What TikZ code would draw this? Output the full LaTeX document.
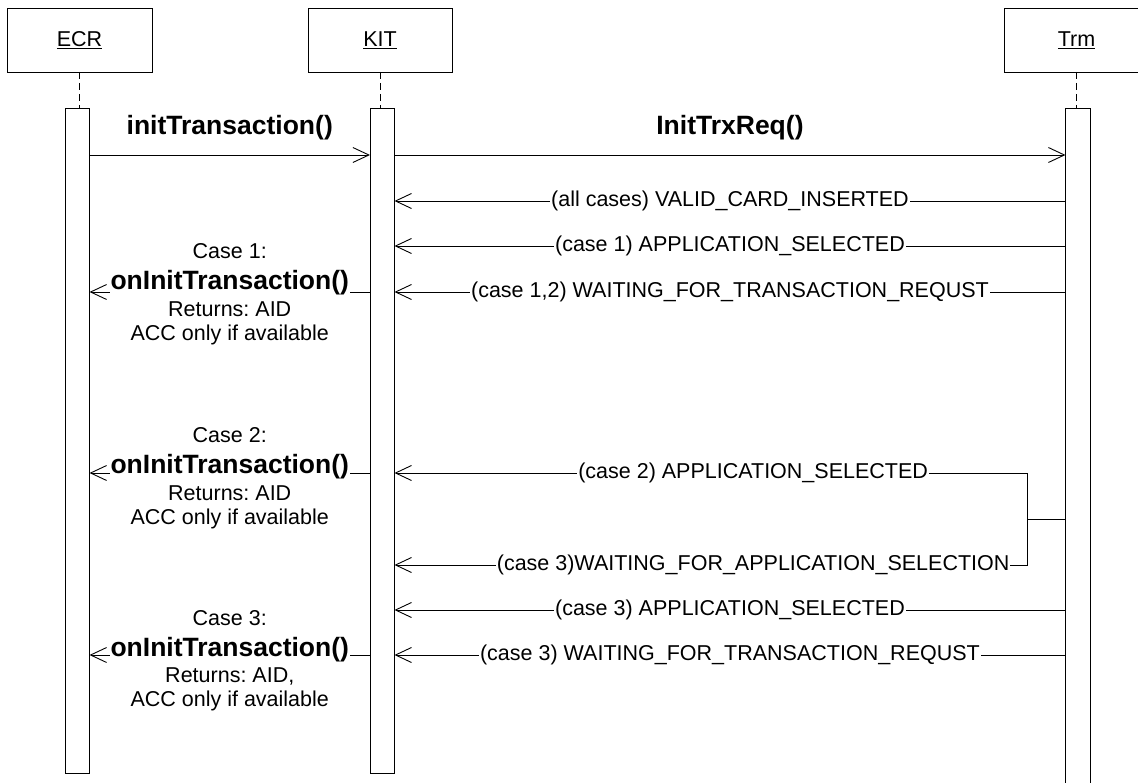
\documentclass[tikz,border=0pt]{standalone}
\usepackage{fontspec}
\setmainfont{Liberation Sans}
\usetikzlibrary{arrows.meta}
\frenchspacing
\newcommand\retbold[1]{{\fontsize{26.5}{30}\selectfont\bfseries #1}}
\newcommand\retfont{\fontsize{21.5}{24}\selectfont\frenchspacing\lineskiplimit=-100pt\relax\lineskip=0pt\relax}
\begin{document}
\begin{tikzpicture}[x=1pt,y=-1pt,
 every node/.style={inner sep=0pt, outer sep=0pt},
 objbox/.style={draw, line width=0.9pt, fill=white, minimum width=145pt, minimum height=64pt, font=\fontsize{21.5}{24}\selectfont},
 actbar/.style={draw, line width=0.9pt, fill=white, minimum width=24.5pt},
 life/.style={line width=0.9pt, dash pattern=on 7pt off 4pt},
 msg/.style={line width=0.9pt, -{Straight Barb[length=16pt,width=15pt]}},
 wire/.style={line width=0.9pt},
 lbl/.style={fill=white, inner xsep=1pt, inner ysep=1pt, font=\fontsize{21.5}{24}\selectfont\frenchspacing},
 hdr/.style={font=\fontsize{26.5}{30}\selectfont\bfseries},
 ret/.style={fill=white, inner sep=1pt, align=center, font=\retfont},
]
\clip (0,0) rectangle (1138,783);
\fill[white] (0,0) rectangle (1138,783);

% objects
\node[objbox] (ecrbox) at (79.5,40) {\underline{ECR}};
\node[objbox, minimum width=144pt] (kitbox) at (380,40) {\underline{KIT}};
\node[objbox] (trmbox) at (1076.5,40) {\underline{Trm}};

% activation bars
\node[actbar, minimum height=665pt] (ecrbar) at (77.3,440.5) {};
\node[actbar, minimum height=665pt] (kitbar) at (382.2,440.5) {};
\node[actbar, minimum height=702pt] (trmbar) at (1077.7,459) {};

% lifelines
\draw[life] (ecrbox.south) -- (ecrbox.south |- ecrbar.north);
\draw[life] (kitbox.south) -- (kitbox.south |- kitbar.north);
\draw[life] (trmbox.south) -- (trmbox.south |- trmbar.north);

% calls
\draw[msg] (ecrbar.east |- 0,155) -- node[hdr, yshift=27pt] (l0) {initTransaction()} (kitbar.west |- 0,155);
\draw[msg] (kitbar.east |- 0,155) -- node[hdr, yshift=27pt] (l1) {InitTrxReq()} (trmbar.west |- 0,155);

% events from terminal
\draw[msg] (trmbar.west |- 0,201) -- node[lbl] (e1) {(all cases) VALID\_CARD\_INSERTED} (kitbar.east |- 0,201);
\draw[msg] (trmbar.west |- 0,246) -- node[lbl] (e2) {(case 1) APPLICATION\_SELECTED} (kitbar.east |- 0,246);
\draw[msg] (trmbar.west |- 0,292) -- node[lbl] (e3) {(case 1,2) WAITING\_FOR\_TRANSACTION\_REQUST} (kitbar.east |- 0,292);

\coordinate (fork) at (1027,519);
\draw[wire] (trmbar.west |- fork) -- (fork);
\draw[msg] (fork) -- (fork |- 0,473) -- node[lbl, pos=0.433] (e4) {(case 2) APPLICATION\_SELECTED} (kitbar.east |- 0,473);
\draw[msg] (fork) -- (fork |- 0,565) -- node[lbl, pos=0.433] (e5) {(case 3)WAITING\_FOR\_APPLICATION\_SELECTION} (kitbar.east |- 0,565);

\draw[msg] (trmbar.west |- 0,610) -- node[lbl] (e6) {(case 3) APPLICATION\_SELECTED} (kitbar.east |- 0,610);
\draw[msg] (trmbar.west |- 0,655) -- node[lbl] (e7) {(case 3) WAITING\_FOR\_TRANSACTION\_REQUST} (kitbar.east |- 0,655);

% callbacks to ECR
\draw[msg] (kitbar.west |- 0,292) -- node[ret, yshift=-2pt] (r1) {Case 1:\\[7pt]\retbold{onInitTransaction()}\\[2.5pt]Returns: AID\\ACC only if available} (ecrbar.east |- 0,292);
\draw[msg] (kitbar.west |- 0,473) -- node[ret, yshift=-5pt] (r2) {Case 2:\\[7pt]\retbold{onInitTransaction()}\\[2.5pt]Returns: AID\\ACC only if available} (ecrbar.east |- 0,473);
\draw[msg] (kitbar.west |- 0,655) -- node[ret, yshift=-5.5pt] (r3) {Case 3:\\[7pt]\retbold{onInitTransaction()}\\[2.5pt]Returns: AID,\\ACC only if available} (ecrbar.east |- 0,655);
\end{tikzpicture}
\end{document}
